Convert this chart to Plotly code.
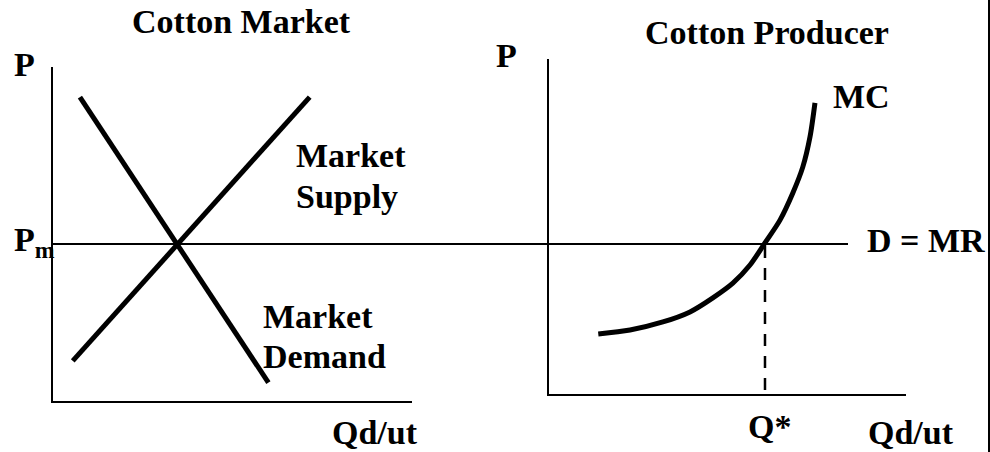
import plotly.graph_objects as go

W, H = 990, 452

# --- chart values (arbitrary economic units, 0-10 on each axis) ---
# left panel: cotton market
demand_q = [0.75, 6.0]
demand_p = [9.1, 0.55]
supply_q = [0.55, 7.15]
supply_p = [1.2, 9.1]
PM = 4.7

# right panel: cotton producer
mc_q = [1.38, 2.27, 3.19, 3.95, 4.59, 5.15, 5.63, 6.05, 6.47, 6.83, 7.11, 7.31, 7.45]
mc_p = [1.79, 1.91, 2.15, 2.45, 2.87, 3.31, 3.85, 4.51, 5.19, 6.00, 6.78, 7.67, 8.69]
MR = 4.48
QSTAR = 6.05

FONT = "Liberation Serif, Times New Roman, serif"


def px(x):
    return x / W


def py(y):
    return 1 - y / H


fig = go.Figure()

# market curves
fig.add_trace(go.Scatter(x=demand_q, y=demand_p, mode="lines",
                         line=dict(color="black", width=5), xaxis="x", yaxis="y"))
fig.add_trace(go.Scatter(x=supply_q, y=supply_p, mode="lines",
                         line=dict(color="black", width=5), xaxis="x", yaxis="y"))

# producer MC curve and Q* drop line
fig.add_trace(go.Scatter(x=mc_q, y=mc_p, mode="lines",
                         line=dict(color="black", width=5, shape="spline", smoothing=0.8),
                         xaxis="x2", yaxis="y2"))
fig.add_trace(go.Scatter(x=[QSTAR, QSTAR], y=[0.12, MR], mode="lines",
                         line=dict(color="black", width=2.5, dash="12px,10px"),
                         xaxis="x2", yaxis="y2"))

# Pm / D = MR line running across both panels
fig.add_shape(type="line", xref="paper", yref="y", x0=px(53), x1=px(848), y0=PM, y1=PM,
              line=dict(color="black", width=2))
# right page border
fig.add_shape(type="line", xref="paper", yref="paper", x0=px(989), x1=px(989), y0=0, y1=1,
              line=dict(color="black", width=2))

axis_common = dict(showgrid=False, zeroline=False, showticklabels=False, ticks="",
                   showline=True, linecolor="black", linewidth=2, fixedrange=True)

labels = [
    ("Cotton Market", 241, 21.5, "center"),
    ("Cotton Producer", 767, 33, "center"),
    ("P", 24, 64, "center"),
    ("P", 507, 56, "center"),
    ("P<sub>m</sub>", 12, 242, "left"),
    ("Market", 294, 155, "left"),
    ("Supply", 294, 196, "left"),
    ("Market", 261, 316, "left"),
    ("Demand", 261, 356, "left"),
    ("Qd/ut", 330, 432, "left"),
    ("MC", 831, 97, "left"),
    ("D = MR", 865, 240, "left"),
    ("Q*", 769, 426, "center"),
    ("Qd/ut", 866, 432, "left"),
]
annotations = [
    dict(text=t, x=px(x), y=py(y), xref="paper", yref="paper", xanchor=a, yanchor="middle",
         showarrow=False, font=dict(family=FONT, size=34, color="black", weight="bold"))
    for t, x, y, a in labels
]

fig.update_layout(
    width=W, height=H, autosize=False,
    margin=dict(l=0, r=0, t=0, b=0),
    paper_bgcolor="white", plot_bgcolor="white",
    showlegend=False,
    xaxis=dict(domain=[px(53), px(412)], range=[0, 10], anchor="y", **axis_common),
    yaxis=dict(domain=[py(401), py(67)], range=[0, 10], anchor="x", **axis_common),
    xaxis2=dict(domain=[px(549), px(906)], range=[0, 10], anchor="y2", **axis_common),
    yaxis2=dict(domain=[py(394), py(59)], range=[0, 10], anchor="x2", **axis_common),
    annotations=annotations,
)

# page body has a default margin; remove it so the figure fills the window
fig.write_html("out.html", config={"displayModeBar": False},
               post_script="document.body.style.margin='0';document.body.style.overflow='hidden';")
